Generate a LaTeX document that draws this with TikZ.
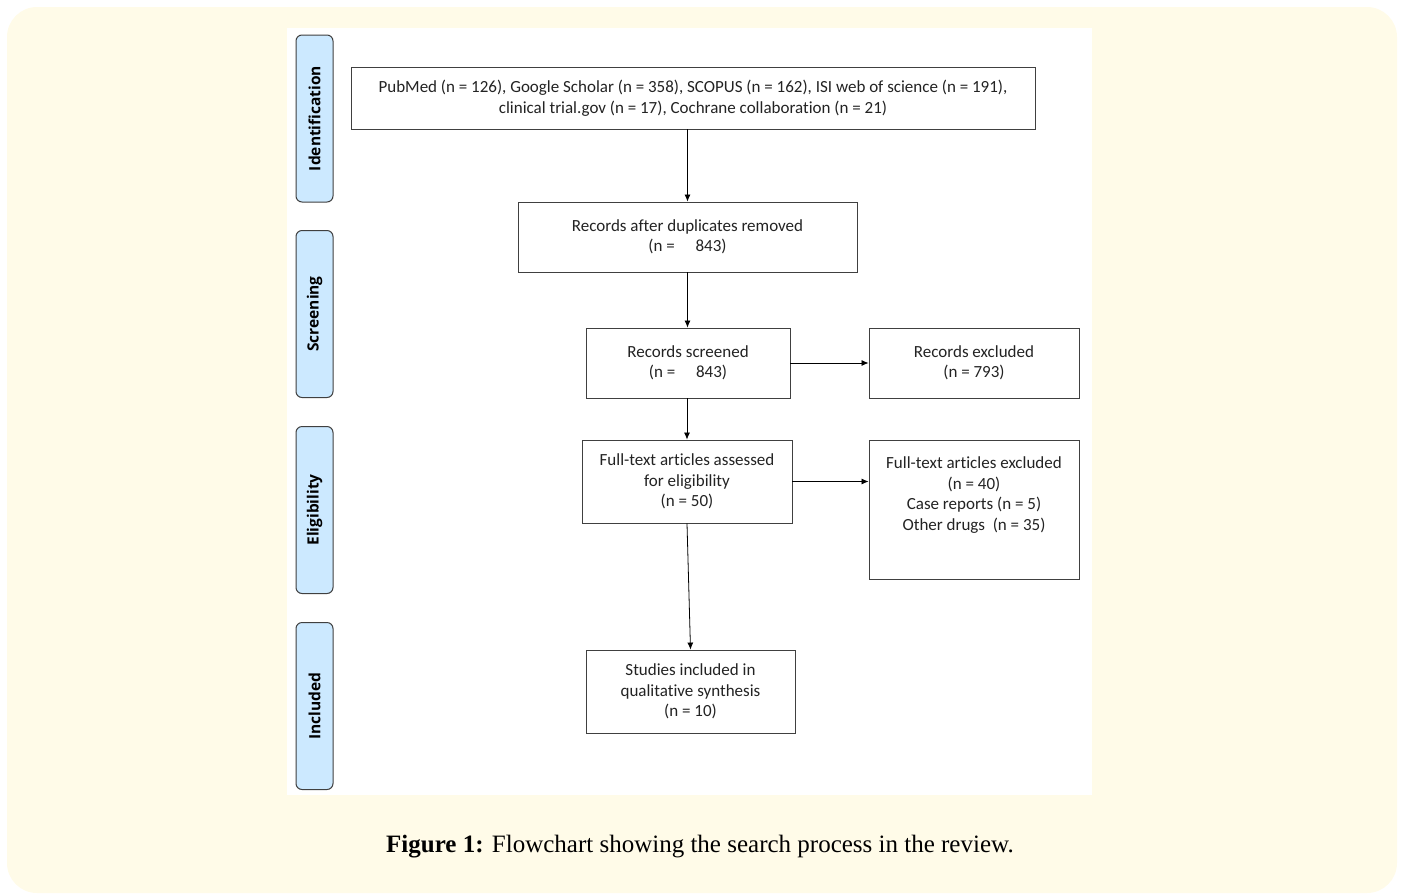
\documentclass[tikz,border=0pt]{standalone}
\usepackage{fontspec}
\setmainfont{Carlito}[Ligatures=NoCommon]
\newfontfamily\capfont{Liberation Serif}
\newfontfamily\phasefont{Open Sans}
\usetikzlibrary{arrows.meta}
\definecolor{cream}{RGB}{255,251,232}
\definecolor{phaseblue}{RGB}{204,233,255}
\definecolor{linegray}{RGB}{64,64,64}
\definecolor{txtgray}{RGB}{35,35,35}
\tikzset{
  flowbox/.style={draw=linegray, line width=0.9pt, fill=white, align=center, text=txtgray,
    font=\fontsize{17}{20.5}\selectfont, inner sep=0pt},
  phasebox/.style={draw=linegray, line width=1pt, fill=phaseblue, rounded corners=6pt, rotate=90,
    minimum width=167pt, minimum height=37pt, inner sep=0pt,
    font=\phasefont\bfseries\fontsize{15.5}{18}\selectfont},
  flowarrow/.style={draw=black, line width=0.8pt, -{Latex[length=7pt,width=6pt]}}
}
\begin{document}
\begin{tikzpicture}[x=1pt,y=-1pt]
\useasboundingbox (0,0) rectangle (1401,895);
\fill[cream, rounded corners=30pt] (7,7) rectangle (1397,893);
\fill[white] (287,28) rectangle (1092,795);
% phases
\node[phasebox] (ident) at (314.5,118.5) {Identification};
\node[phasebox] (screen) at (314.5,314) {Screening};
\node[phasebox] (elig) at (314.5,510) {Eligibility};
\node[phasebox] (incl) at (314.5,706) {Included};
% boxes
\node[flowbox, minimum width=684pt, minimum height=62pt] (src) at (693,98)
  {PubMed (n = 126), Google Scholar (n = 358), SCOPUS (n = 162), ISI web of science (n = 191),\\
   clinical trial.gov (n = 17), Cochrane collaboration (n = 21)};
\node[flowbox, minimum width=339pt, minimum height=70pt] (dup) at (687.5,237)
  {Records after duplicates removed\\(n = \quad843)};
\node[flowbox, minimum width=204pt, minimum height=70pt] (scr) at (688,363)
  {Records screened\\(n = \quad843)};
\node[flowbox, minimum width=210pt, minimum height=70pt] (exc) at (974,363)
  {Records excluded\\(n = 793)};
\node[flowbox, minimum width=210pt, minimum height=83pt] (ft) at (687,481.5)
  {Full-text articles assessed\\for eligibility\\(n = 50)};
\node[flowbox, minimum width=210pt, minimum height=139pt] (ftx) at (974,509.5) {};
\node[flowbox, draw=none, fill=none, anchor=north] (ftxt) at ([yshift=-17pt]ftx.north)
  {Full-text articles excluded\\(n = 40)\\Case reports (n = 5)\\Other drugs \ (n = 35)};
\node[flowbox, minimum width=209pt, minimum height=83pt] (inc) at (690.5,691.5)
  {Studies included in\\qualitative synthesis\\(n = 10)};
% arrows
\draw[flowarrow] (src.south -| dup) -- (dup.north);
\draw[flowarrow] (dup.south) -- (dup.south |- scr.north);
\draw[flowarrow] (scr.south) -- (scr.south -| ft) -- (ft.north);
\draw[flowarrow] (scr.east) -- (exc.west);
\draw[flowarrow] (ft.east) -- (ft.east -| ftx.west);
\draw[flowarrow] (ft.south) -- (inc.north);
% caption
\node[font=\capfont\fontsize{25}{29}\selectfont, text=black] (cap) at (700,847)
  {\textbf{Figure 1:} Flowchart showing the search process in the review.};
\end{tikzpicture}
\end{document}
